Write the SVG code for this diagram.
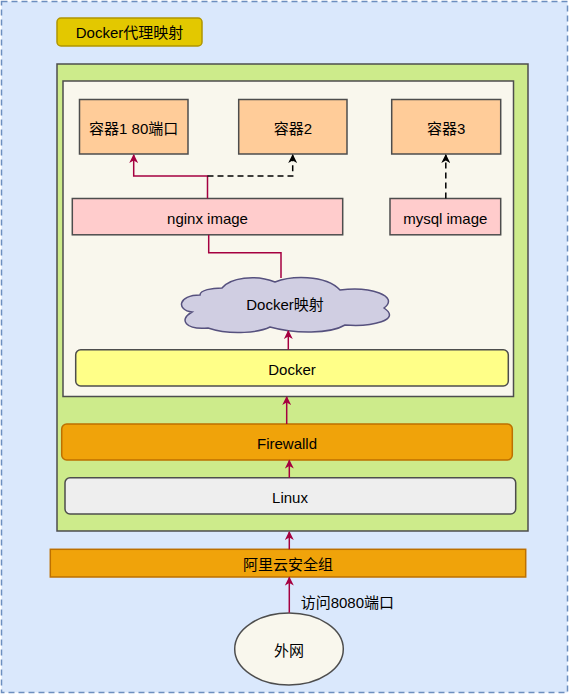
<svg xmlns="http://www.w3.org/2000/svg" width="569" height="694" viewBox="0 0 569 694">
<style>
text{font-family:"Liberation Sans","Noto Sans CJK SC",sans-serif;font-size:15px;fill:#000;text-anchor:middle;dominant-baseline:central}
.box{stroke:#4d4d4d;stroke-width:1.5}
.red{fill:none;stroke:#a50040;stroke-width:1.5}
.dash{fill:none;stroke:#000;stroke-width:1.5;stroke-dasharray:6 4}
</style>
<defs>
<marker id="ar" viewBox="0 0 10 10" refX="9" refY="5" markerWidth="10" markerHeight="9" markerUnits="userSpaceOnUse" orient="auto"><path d="M0,0 L10,5 L0,10 L3,5 Z" fill="#a50040"/></marker>
<marker id="ab" viewBox="0 0 10 10" refX="9" refY="5" markerWidth="10" markerHeight="9" markerUnits="userSpaceOnUse" orient="auto"><path d="M0,0 L10,5 L0,10 L3,5 Z" fill="#000"/></marker>
</defs>
<g id="background"><rect x="1.5" y="1.5" width="566" height="691" fill="#dae8fc" stroke="#6c8ebf" stroke-width="1.5" stroke-dasharray="6 4"/></g>
<g id="title"><rect x="57" y="18" width="145" height="28" rx="4" fill="#e3c800" stroke="#b09500" stroke-width="1.5"/><text x="129.5" y="32.5">Docker代理映射</text></g>
<g id="host"><rect x="57" y="64" width="471" height="467" class="box" fill="#cdeb8b"/></g>
<g id="inner"><rect x="63" y="81" width="450.5" height="315.5" class="box" fill="#f9f7ed"/></g>
<g id="c1"><rect x="79.5" y="99.5" width="108.5" height="54.5" class="box" fill="#ffcc99"/><text x="133.7" y="128">容器1 80端口</text></g>
<g id="c2"><rect x="238.7" y="99.5" width="108.3" height="54.5" class="box" fill="#ffcc99"/><text x="292.8" y="128">容器2</text></g>
<g id="c3"><rect x="391.7" y="99.5" width="109" height="54.5" class="box" fill="#ffcc99"/><text x="446.2" y="128">容器3</text></g>
<g id="nginx"><rect x="72.3" y="198.5" width="270.4" height="36.3" class="box" fill="#ffcccc"/><text x="207.5" y="218">nginx image</text></g>
<g id="mysql"><rect x="390" y="198.5" width="110.7" height="36.3" class="box" fill="#ffcccc"/><text x="445.3" y="218">mysql image</text></g>
<g id="cloud"><path d="M200,295 C178,295 176,310 192,312 C178,320 186,330 208,328 C232,336 260,332 270,327 C295,334 330,334 345,325 C372,327 402,320 384,308 C400,296 370,286 340,290 C325,274 290,276 275,282 C255,274 230,278 222,288 C212,288 200,290 200,295 Z" fill="#d0cee2" stroke="#56517e" stroke-width="1.5"/><text x="285" y="304.5">Docker映射</text></g>
<g id="docker"><rect x="75.7" y="349.7" width="432.6" height="36.3" rx="5" class="box" fill="#ffff88"/><text x="292" y="369">Docker</text></g>
<g id="firewalld"><rect x="61.7" y="424" width="450.6" height="36" rx="5" fill="#f0a30a" stroke="#bd7000" stroke-width="1.5"/><text x="287" y="443">Firewalld</text></g>
<g id="linux"><rect x="65" y="477.7" width="450.7" height="36.3" rx="5" class="box" fill="#eeeeee"/><text x="290" y="497">Linux</text></g>
<g id="aliyun"><rect x="50.3" y="549.3" width="475.4" height="27.7" fill="#f0a30a" stroke="#bd7000" stroke-width="1.5"/><text x="288" y="564">阿里云安全组</text></g>
<g id="wan"><ellipse cx="289" cy="649" rx="54.3" ry="36" class="box" fill="#f9f7ed"/><text x="289" y="650">外网</text></g>
<g id="connectors">
<path class="red" d="M207.5,198.5 V176 H133.7 V155" marker-end="url(#ar)"/>
<path class="dash" d="M207.5,176 H292.7 V155" marker-end="url(#ab)"/>
<path class="dash" d="M445.8,198.5 V155" marker-end="url(#ab)"/>
<path class="red" d="M208.7,234.8 V252.7 H281 V278"/>
<path class="red" d="M288.3,349.7 V331" marker-end="url(#ar)"/>
<path class="red" d="M286.7,424 V397" marker-end="url(#ar)"/>
<path class="red" d="M289.3,477.7 V460.5" marker-end="url(#ar)"/>
<path class="red" d="M289.3,549.3 V532" marker-end="url(#ar)"/>
<path class="red" d="M289.3,612.7 V577.5" marker-end="url(#ar)"/>
<text x="300.7" y="602" style="text-anchor:start">访问8080端口</text>
</g>
</svg>
